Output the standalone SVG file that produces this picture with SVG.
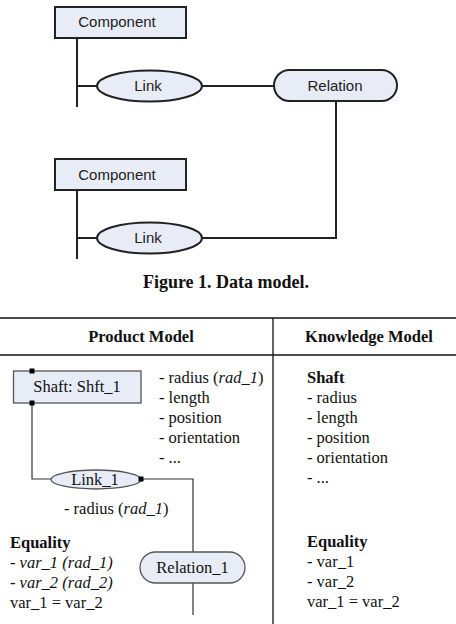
<svg xmlns="http://www.w3.org/2000/svg" width="456" height="624" viewBox="0 0 456 624">
<style>
.sans{font-family:"Liberation Sans",Arial,sans-serif;font-size:15px;fill:#222;text-anchor:middle}
.serif{font-family:"Liberation Serif","Times New Roman",serif;font-size:16.5px;fill:#111}
.b{font-weight:bold}
.i{font-style:italic}
.mid{text-anchor:middle}
.node{fill:#e8ecf7;stroke:#222;stroke-width:2}
.node2{fill:#e8ecf7;stroke:#555;stroke-width:1.3}
.conn{fill:none;stroke:#222;stroke-width:2}
.conn2{fill:none;stroke:#333;stroke-width:1.2}
.rule{stroke:#111;stroke-width:1.3}
</style>
<rect width="456" height="624" fill="#fff"/>
<g id="connectors">
<path class="conn" d="M77,38 V107 M77,86 H97 M202,86 H274"/>
<path class="conn" d="M336,101 V238 H202"/>
<path class="conn" d="M77,190 V259 M77,238 H97"/>
<path class="conn2" d="M32,403 V479 H51"/>
<path class="conn2" d="M141,479 H193 V552 M193,583 V615"/>
</g>
<g id="component1"><rect class="node" x="55" y="7" width="131" height="31"/><text class="sans" x="117" y="27">Component</text></g>
<g id="link1"><ellipse class="node" cx="149.5" cy="86" rx="52.5" ry="15.5"/><text class="sans" x="148" y="91">Link</text></g>
<g id="relation"><rect class="node" x="274" y="70" width="123" height="31" rx="15.5"/><text class="sans" x="335" y="91">Relation</text></g>
<g id="component2"><rect class="node" x="55" y="159" width="131" height="31"/><text class="sans" x="117" y="180">Component</text></g>
<g id="link2"><ellipse class="node" cx="149.5" cy="238" rx="52.5" ry="15.5"/><text class="sans" x="148" y="243">Link</text></g>
<text class="serif b mid" x="226" y="288" style="font-size:18px">Figure 1. Data model.</text>
<g id="table">
<line class="rule" x1="0" y1="318" x2="456" y2="318"/>
<line class="rule" x1="0" y1="355" x2="456" y2="355"/>
<line class="rule" x1="273" y1="318" x2="273" y2="624"/>
<text class="serif b mid" x="141" y="342">Product Model</text>
<text class="serif b mid" x="369" y="342">Knowledge Model</text>
</g>
<g id="shaft"><rect class="node2" x="13.5" y="371" width="127.5" height="32"/><text class="serif mid" x="77" y="392">Shaft: Shft_1</text>
<rect x="29.5" y="368.5" width="5" height="5" fill="#000"/><rect x="29.5" y="400.5" width="5" height="5" fill="#000"/></g>
<g id="link_1"><ellipse class="node2" cx="96" cy="479.5" rx="45" ry="9.5"/><text class="serif mid" x="95" y="485">Link_1</text>
<rect x="138.5" y="476.5" width="5" height="5" fill="#000"/></g>
<g id="relation_1"><rect class="node2" x="140" y="552" width="105" height="31" rx="15.5"/><text class="serif mid" x="192.5" y="573">Relation_1</text></g>
<g id="product-text" class="serif">
<text x="159" y="383">- radius (<tspan class="i">rad_1</tspan>)</text>
<text x="159" y="403">- length</text>
<text x="159" y="423">- position</text>
<text x="159" y="443">- orientation</text>
<text x="159" y="463">- ...</text>
<text x="64" y="514">- radius (<tspan class="i">rad_1</tspan>)</text>
<text class="b" x="10" y="548">Equality</text>
<text class="i" x="10" y="568">- var_1 (rad_1)</text>
<text class="i" x="10" y="588">- var_2 (rad_2)</text>
<text x="10" y="608">var_1 = var_2</text>
</g>
<g id="knowledge-text" class="serif">
<text class="b" x="307" y="383">Shaft</text>
<text x="307" y="403">- radius</text>
<text x="307" y="423">- length</text>
<text x="307" y="443">- position</text>
<text x="307" y="463">- orientation</text>
<text x="307" y="483">- ...</text>
<text class="b" x="307" y="547">Equality</text>
<text x="307" y="567">- var_1</text>
<text x="307" y="587">- var_2</text>
<text x="307" y="607">var_1 = var_2</text>
</g>
</svg>
